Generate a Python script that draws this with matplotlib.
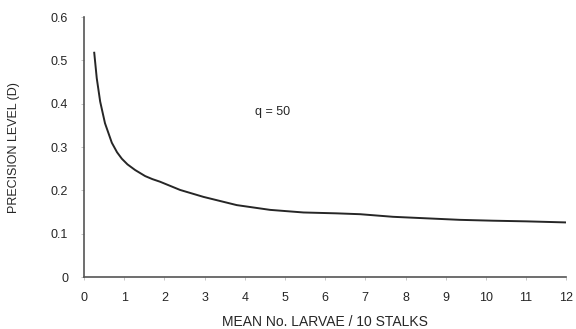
import matplotlib
matplotlib.use("Agg")
import matplotlib.pyplot as plt

plt.rcParams['font.family'] = ['Liberation Sans', 'DejaVu Sans']

# Mean number of larvae per 10 stalks and the corresponding precision level D (q = 50)
mean_larvae = [0.25, 0.315, 0.40, 0.52, 0.69, 0.82, 0.94, 1.08, 1.27, 1.52, 1.70, 1.89,
               2.39, 2.97, 3.80, 4.63, 5.46, 6.28, 6.87, 7.69, 8.52, 9.35, 10.18, 11.01, 12.0]
precision = [0.520, 0.459, 0.405, 0.355, 0.310, 0.288, 0.273, 0.260, 0.247, 0.233, 0.226, 0.220,
             0.201, 0.185, 0.166, 0.155, 0.149, 0.147, 0.145, 0.139, 0.1355, 0.132, 0.130,
             0.1285, 0.126]

x_ticks = list(range(0, 13))
y_ticks = [0, 0.1, 0.2, 0.3, 0.4, 0.5, 0.6]
y_tick_labels = ['0', '0.1', '0.2', '0.3', '0.4', '0.5', '0.6']

ink = '#262626'

fig = plt.figure(figsize=(5.76, 3.29), dpi=100)
ax = fig.add_axes([0.146, 0.158, 0.837, 0.790])

ax.plot(mean_larvae, precision, color=ink, lw=1.4, solid_capstyle='butt',
        solid_joinstyle='round')

ax.set_xlim(0, 12)
ax.set_ylim(0, 0.6)
ax.set_xticks(x_ticks)
ax.set_yticks(y_ticks)
ax.set_yticklabels(y_tick_labels)

for side in ('top', 'right'):
    ax.spines[side].set_visible(False)
for side in ('left', 'bottom'):
    ax.spines[side].set_color('#555555')
    ax.spines[side].set_linewidth(1.2)

ax.tick_params(axis='both', direction='out', length=2.5, width=0.6,
               color='#bbbbbb', labelsize=9, labelcolor=ink)
ax.tick_params(axis='y', pad=9)
ax.tick_params(axis='x', pad=8)

ax.set_xlabel('MEAN No. LARVAE / 10 STALKS', fontsize=10, color=ink, labelpad=8)
ax.set_ylabel('PRECISION LEVEL (D)', fontsize=9, color=ink, labelpad=22)

ax.text(4.68, 0.381, 'q = 50', fontsize=9, color=ink, ha='center', va='center')

fig.savefig('out.png', dpi=100)
